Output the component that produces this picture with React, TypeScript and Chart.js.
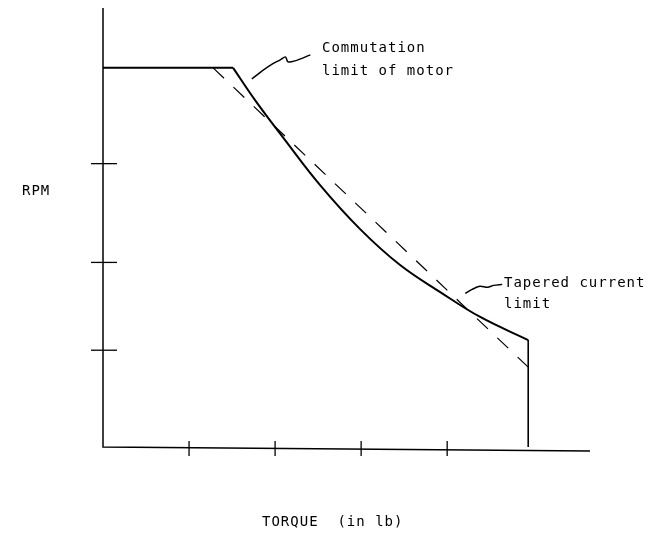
import React, { useEffect, useRef } from "react";
import { Chart, registerables } from "chart.js";
Chart.register(...registerables);

// Torque (x) and RPM (y) in arbitrary chart units
const plateauTorque = [0, 1.512];
const plateauRpm = [3.8, 3.8];
const curveTorque = [1.512, 1.767, 2.116, 2.523, 2.988, 3.453, 3.919, 4.384, 4.942];
const curveRpm = [3.8, 3.477, 3.076, 2.625, 2.184, 1.824, 1.553, 1.303, 1.072];
const dropTorque = [4.942, 4.942];
const dropRpm = [1.072, 0];
const commTorque = [1.28, 4.942];
const commRpm = [3.8, 0.8];
const leader1Torque = [1.73, 1.85, 1.97, 2.06, 2.12, 2.15, 2.23, 2.41];
const leader1Rpm = [3.69, 3.77, 3.84, 3.88, 3.91, 3.86, 3.87, 3.93];
const leader2Torque = [4.21, 4.29, 4.38, 4.47, 4.54, 4.64];
const leader2Rpm = [1.54, 1.58, 1.61, 1.6, 1.62, 1.63];
const xTicks = [1, 2, 3, 4];
const yTicks = [0.97, 1.85, 2.84];
const xMax = 5.66;
const yMax = 4.4;
const xLabel = "TORQUE  (in lb)";
const yLabel = "RPM";
const note1 = ["Commutation", "limit of motor"];
const note2 = ["Tapered current", "limit"];

const pts = (xs: number[], ys: number[]) => xs.map((x, i) => ({ x, y: ys[i] }));

export default function App() {
  const ref = useRef<HTMLCanvasElement>(null);
  useEffect(() => {
    document.body.style.margin = "0";
    const font = '14px "DejaVu Sans Mono", monospace';
    const decor = {
      id: "decor",
      beforeDatasetsDraw(chart: any) {
        const { ctx, scales } = chart;
        const xs = scales.x, ys = scales.y;
        const x0 = xs.getPixelForValue(0), y0 = ys.getPixelForValue(0);
        ctx.save();
        ctx.strokeStyle = "#000";
        ctx.lineWidth = 1.5;
        ctx.beginPath();
        ctx.moveTo(x0, ys.getPixelForValue(yMax));
        ctx.lineTo(x0, y0);
        ctx.lineTo(xs.getPixelForValue(xMax), y0 + 4);
        ctx.stroke();
        ctx.lineWidth = 1.3;
        yTicks.forEach((v) => {
          const p = ys.getPixelForValue(v);
          ctx.beginPath();
          ctx.moveTo(x0 - 12, p);
          ctx.lineTo(x0 + 14, p);
          ctx.stroke();
        });
        xTicks.forEach((v) => {
          const p = xs.getPixelForValue(v);
          ctx.beginPath();
          ctx.moveTo(p, y0 - 6);
          ctx.lineTo(p, y0 + 9);
          ctx.stroke();
        });
        ctx.fillStyle = "#000";
        ctx.font = font;
        ctx.letterSpacing = "1px";
        ctx.textBaseline = "alphabetic";
        ctx.fillText(yLabel, 22, 195);
        ctx.fillText(xLabel, 262, 526);
        ctx.fillText(note1[0], 322, 52);
        ctx.fillText(note1[1], 322, 75);
        ctx.fillText(note2[0], 504, 287);
        ctx.fillText(note2[1], 504, 308);
        ctx.restore();
      },
    };
    const solid = { borderColor: "#000", borderWidth: 2, pointRadius: 0 };
    const chart = new Chart(ref.current!, {
      type: "line",
      data: {
        datasets: [
          { data: pts(plateauTorque, plateauRpm), ...solid },
          { data: pts(curveTorque, curveRpm), ...solid, tension: 0.4 },
          { data: pts(dropTorque, dropRpm), ...solid, borderWidth: 1.6 },
          { data: pts(commTorque, commRpm), borderColor: "#000", borderWidth: 1.2, borderDash: [15, 13], pointRadius: 0 },
          { data: pts(leader1Torque, leader1Rpm), borderColor: "#000", borderWidth: 1.5, pointRadius: 0, tension: 0.3 },
          { data: pts(leader2Torque, leader2Rpm), borderColor: "#000", borderWidth: 1.5, pointRadius: 0, tension: 0.3 },
        ],
      },
      options: {
        responsive: false,
        animation: false,
        events: [],
        layout: { padding: { left: 103, right: 65, top: 8, bottom: 91 } },
        plugins: { legend: { display: false }, tooltip: { enabled: false } },
        scales: {
          x: { type: "linear", min: 0, max: xMax, display: false },
          y: { type: "linear", min: 0, max: yMax, display: false },
        },
      },
      plugins: [decor],
    });
    return () => chart.destroy();
  }, []);
  return (
    <div style={{ width: 655, height: 538 }}>
      <canvas ref={ref} width={655} height={538} />
    </div>
  );
}
